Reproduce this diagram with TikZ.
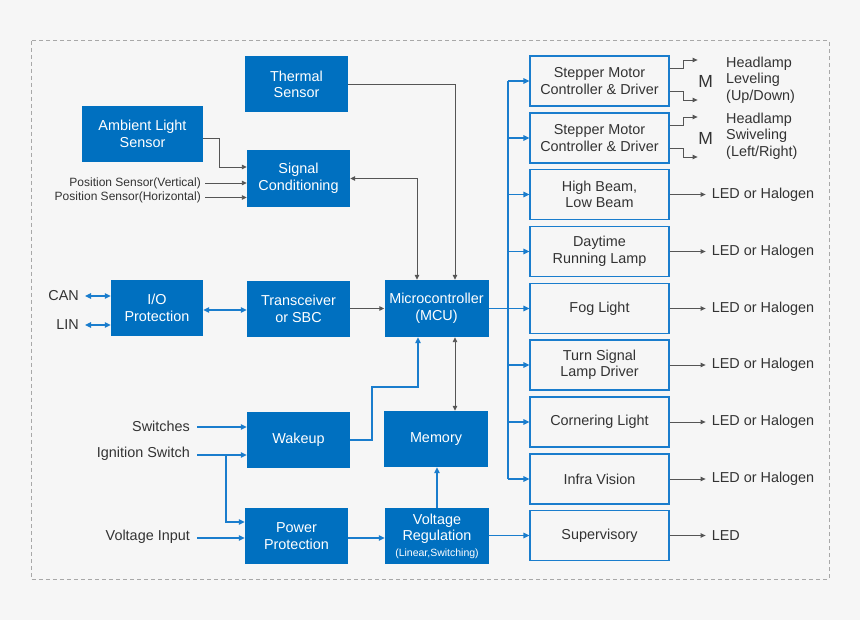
\documentclass[tikz,border=0pt]{standalone}
\usepackage{fontspec}
\setmainfont{Liberation Sans}
\usetikzlibrary{arrows.meta,calc}
\definecolor{bfill}{HTML}{0070C0}
\definecolor{bline}{HTML}{1A7DCD}
\definecolor{bgc}{HTML}{F6F6F6}
\definecolor{txt}{HTML}{333333}
\definecolor{gline}{HTML}{555555}
\definecolor{dashc}{HTML}{A8A8A8}
\begin{document}
\begin{tikzpicture}[x=1pt,y=-1pt,
 every node/.style={font=\fontsize{14.4}{16.5}\selectfont, text=txt},
 bbox/.style={fill=bfill, text=white, minimum width=103pt, minimum height=56pt, inner sep=0pt, align=center},
 wbox/.style={draw=bline, line width=1.2pt, fill=bgc, minimum width=139pt, minimum height=50pt, inner sep=0pt, align=center},
 small/.style={font=\fontsize{12}{13.5}\selectfont},
 lbl/.style={inner sep=0pt, align=left},
 gl/.style={draw=gline, line width=0.9pt, -{Triangle[length=5pt,width=4.5pt]}},
 glb/.style={draw=gline, line width=0.9pt, {Triangle[length=5pt,width=4.5pt]}-{Triangle[length=5pt,width=4.5pt]}},
 bl/.style={draw=bline, line width=1.2pt, -{Triangle[length=6pt,width=5.5pt]}},
 blb/.style={draw=bline, line width=1.2pt, {Triangle[length=6pt,width=5.5pt]}-{Triangle[length=6pt,width=5.5pt]}},
 bus/.style={draw=bline, line width=1.2pt}]
\fill[bgc] (0,0) rectangle (860,620);
\useasboundingbox (0,0) rectangle (860,620);
\draw[dashc, line width=1pt, dash pattern=on 4pt off 3pt] (31,41) rectangle (829,579);

% blue boxes
\node[bbox] (therm) at (296.5,84.5) {Thermal\\Sensor};
\node[bbox, minimum width=121pt] (amb) at (142.5,134) {Ambient Light\\Sensor};
\node[bbox, minimum height=57pt] (sig) at (298.5,178.5) {Signal\\Conditioning};
\node[bbox, minimum width=92pt] (io) at (157,308) {I/O\\Protection};
\node[bbox] (trx) at (298.5,309) {Transceiver\\or SBC};
\node[bbox, minimum width=104pt, minimum height=57pt] (mcu) at (436.5,308.5) {Microcontroller\\(MCU)};
\node[bbox] (wak) at (298.5,440) {Wakeup};
\node[bbox, minimum width=104pt] (mem) at (436,439) {Memory};
\node[bbox] (pp) at (296.5,536) {Power\\Protection};
\node[bbox, minimum width=104pt] (vr) at (437,536) {Voltage\\Regulation\\[-1pt]{\fontsize{10.5}{12}\selectfont (Linear,Switching)}};

% right boxes
\node[wbox] (s1) at (599.5,81) {Stepper Motor\\Controller \& Driver};
\node[wbox] (s2) at (599.5,138) {Stepper Motor\\Controller \& Driver};
\node[wbox] (hb) at (599.5,194.5) {High Beam,\\Low Beam};
\node[wbox] (drl) at (599.5,251.5) {Daytime\\Running Lamp};
\node[wbox] (fog) at (599.5,308.5) {Fog Light};
\node[wbox] (turn) at (599.5,365) {Turn Signal\\Lamp Driver};
\node[wbox] (corn) at (599.5,422) {Cornering Light};
\node[wbox] (infra) at (599.5,479) {Infra Vision};
\node[wbox] (sup) at (599.5,535.5) {Supervisory};

% left labels
\node[small, anchor=east, inner sep=0pt] (ps1) at (201,183) {Position Sensor(Vertical)};
\node[small, anchor=east, inner sep=0pt] (ps2) at (201,197.5) {Position Sensor(Horizontal)};
\node[anchor=east, inner sep=0pt] (can) at (79,296) {CAN};
\node[anchor=east, inner sep=0pt] (lin) at (79,325) {LIN};
\node[anchor=east, inner sep=0pt] (sw) at (190,426) {Switches};
\node[anchor=east, inner sep=0pt] (ign) at (190,454) {Ignition Switch};
\node[anchor=east, inner sep=0pt] (vin) at (190,537) {Voltage Input};

% left connectors
\draw[gl] (therm.east) -| ($(mcu.north)+(18.5,0)$);
\draw[glb] (sig.east) -| ($(mcu.north)+(-19.5,0)$);
\draw[gl] ($(amb.east)+(0,4)$) -| ($(sig.west)+(-27,-11.5)$) -- ($(sig.west)+(0,-11.5)$);
\draw[gl] ($(ps1.east)+(4,0)$) -- (ps1.east -| sig.west);
\draw[gl] ($(ps2.east)+(4,0)$) -- (ps2.east -| sig.west);
\draw[blb] ($(can.east)+(6,0)$) -- (can.east -| io.west);
\draw[blb] ($(lin.east)+(6,0)$) -- (lin.east -| io.west);
\draw[blb] ($(io.east)+(0,2)$) -- ($(io.east -| trx.west)+(0,2)$);
\draw[gl] (trx.east |- mcu.west) -- (mcu.west);
\draw[glb] ($(mcu.south)+(18.5,0)$) -- ($(mem.north)+(19,0)$);
\draw[bl] (wak.east) -| (372,387) -| ($(mcu.south)+(-18.5,0)$);
\draw[bl] ($(sw.east)+(7,1)$) -- ($(sw.east -| wak.west)+(0,1)$);
\draw[bl] ($(ign.east)+(7,1)$) -- ($(ign.east -| wak.west)+(0,1)$);
\draw[bl] (226,455) |- ($(pp.west)+(0,-14)$);
\draw[bl] ($(vin.east)+(7,1)$) -- ($(vin.east -| pp.west)+(0,1)$);
\draw[bl] ($(pp.east)+(0,2)$) -- ($(vr.west)+(0,2)$);
\draw[bl] (vr.north) -- (vr.north |- mem.south);
\draw[bl] (vr.east |- sup.west) -- (sup.west);

% bus
\coordinate (busx) at (508,0);
\draw[bl] (mcu.east) -- (fog.west);
\draw[bus] (s1.west -| busx) -- (infra.west -| busx);
\foreach \b in {s1,s2,hb,drl,turn,corn,infra}{
  \draw[bl] (\b.west -| busx) -- (\b.west);
}

% outputs
\foreach \b/\n in {hb/o1,drl/o2,fog/o3,turn/o4,corn/o5,infra/o6}{
  \node[anchor=west, inner sep=0pt] (\n) at ($(\b.east)+(42,0)$) {LED or Halogen};
  \draw[gl] (\b.east) -- ($(\n.west)+(-6,0)$);
}
\node[anchor=west, inner sep=0pt] (o7) at ($(sup.east)+(42,0)$) {LED};
\draw[gl] (sup.east) -- ($(o7.west)+(-6,0)$);

% stepper outputs
\foreach \b/\m/\t in {s1/m1/t1,s2/m2/t2}{
  \draw[gl] ($(\b.east)+(0,-13)$) -- ++(14,0) -- ++(0,-8) -- ++(14,0);
  \draw[gl] ($(\b.east)+(0,10)$) -- ++(14,0) -- ++(0,9) -- ++(14,0);
  \node[font=\fontsize{17.5}{20}\selectfont, inner sep=0pt] (\m) at ($(\b.east)+(36,0)$) {M};
}
\node[lbl, anchor=west] (t1) at (726,80) {Headlamp\\Leveling\\(Up/Down)};
\node[lbl, anchor=west] (t2) at (726,136) {Headlamp\\Swiveling\\(Left/Right)};
\end{tikzpicture}
\end{document}
